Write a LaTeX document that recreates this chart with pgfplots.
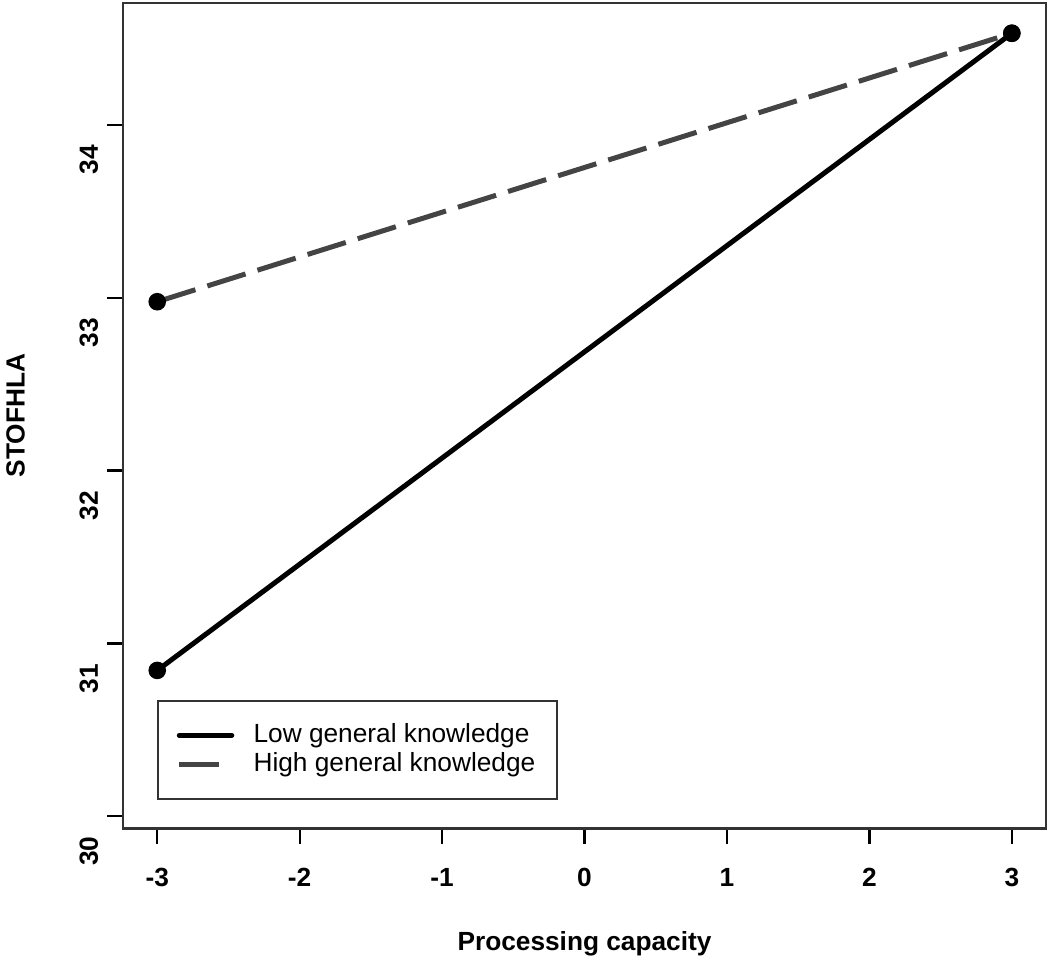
\documentclass[border=0pt]{standalone}
\usepackage{fontspec}
\setmainfont{Liberation Sans}
\usepackage{pgfplots}
\pgfplotsset{compat=1.18}
\definecolor{dgray}{HTML}{444444}
\definecolor{boxgray}{HTML}{333333}
\begin{document}
\begin{tikzpicture}
\begin{axis}[
    scale only axis,
    width=369pt, height=330pt,
    xmin=-3.24, xmax=3.24,
    ymin=29.93, ymax=34.705,
    xtick={-3,-2,-1,0,1,2,3},
    ytick={30,31,32,33,34},
    axis line style={boxgray, line width=1.1pt},
    tick style={black, line width=0.9pt},
    tick align=outside,
    major tick length=6.4pt,
    xtick pos=bottom, ytick pos=left,
    /pgf/number format/assume math mode=true,
    ticklabel style={font=\fontsize{10.5}{12}\selectfont\bfseries},
    xticklabel style={yshift=-6pt},
    yticklabel style={rotate=90, anchor=south, xshift=-14pt},
    xlabel={Processing capacity},
    ylabel={STOFHLA},
    label style={font=\fontsize{10.5}{12}\selectfont\bfseries},
    xlabel style={at={(axis description cs:0.5,0)}, anchor=center, yshift=-46pt},
    ylabel style={at={(axis description cs:0,0.5)}, anchor=center, yshift=43pt},
    legend cell align=left,
    legend image code/.code={\draw[#1, mark=none] (0pt,0pt) -- (21pt,0pt);},
    legend style={
        at={(axis description cs:0.0368,0.035)}, anchor=south west,
        draw=boxgray, line width=0.8pt,
        font=\fontsize{10.5}{12}\selectfont,
        inner xsep=7.5pt, inner ysep=8pt,
        row sep=0pt,
        nodes={inner sep=1.2pt},
        /tikz/every odd column/.append style={column sep=6.5pt},
    },
]
\addplot[black, line width=2pt, line cap=round, mark=*, mark size=2.5pt,
    mark options={solid, fill=black}]
coordinates {
    (-3, 30.844)
    (3, 34.53)
};
\addlegendentry{Low general knowledge}
\addplot[dgray, line width=2pt, dash pattern=on 16pt off 5pt, mark=*, mark size=2.5pt,
    mark options={solid, fill=black, draw=black}]
coordinates {
    (-3, 32.977)
    (3, 34.53)
};
\addlegendentry{High general knowledge}
\end{axis}
\pgfresetboundingbox
\path ([shift={(-49.2pt,-52.8pt)}]current axis.south west) rectangle ([shift={(1.6pt,1.2pt)}]current axis.north east);
\end{tikzpicture}
\end{document}
